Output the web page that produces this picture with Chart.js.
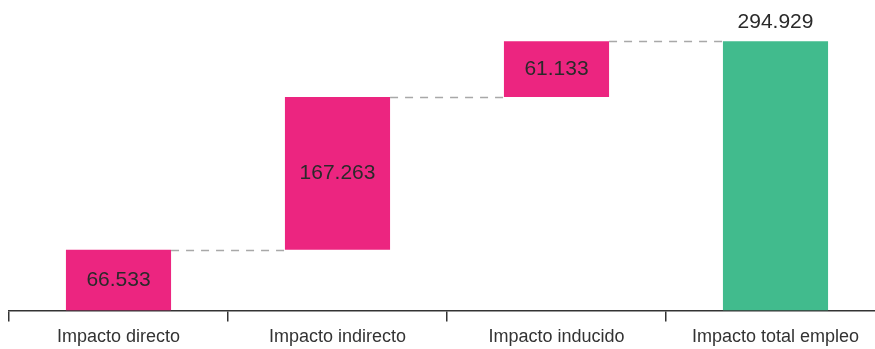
<!DOCTYPE html>
<html>
<head>
<meta charset="utf-8">
<script src="https://cdn.jsdelivr.net/npm/chart.js@4/dist/chart.umd.min.js"></script>
<style>
html,body{margin:0;padding:0;background:#fff;overflow:hidden;width:875px;height:349px;}
#wrap{position:absolute;left:0;top:0;width:890px;height:353px;}
</style>
</head>
<body>
<div id="wrap"><canvas id="c" width="890" height="353"></canvas></div>
<script>
// Data
const categories = ["Impacto directo", "Impacto indirecto", "Impacto inducido", "Impacto total empleo"];
const steps = [66533, 167263, 61133];
const total = 294929;
const yMax = 340000;

const stepColor = "#EC2580";
const totalColor = "#41BB8D";

// floating bar ranges built from the step values
const ranges = [];
let run = 0;
for (const v of steps) { ranges.push([run, run + v]); run += v; }
ranges.push([0, total]);
const labelValues = steps.concat([total]);
const colors = steps.map(() => stepColor).concat([totalColor]);

function fmt(n){ return String(n).replace(/\B(?=(\d{3})+(?!\d))/g, "."); }

const FONT = "'Liberation Sans', Arial, Helvetica, sans-serif";

const overlay = {
  id: "overlay",
  afterDatasetsDraw(chart) {
    const ctx = chart.ctx;
    const meta = chart.getDatasetMeta(0);
    const bars = meta.data;
    const y = chart.scales.y;
    // connectors
    ctx.save();
    ctx.strokeStyle = "#A8A8A8";
    ctx.lineWidth = 1.6;
    ctx.setLineDash([8, 7]);
    for (let i = 0; i < bars.length - 1; i++) {
      const b = bars[i], n = bars[i + 1];
      const yy = Math.round(y.getPixelForValue(ranges[i][1])) + 0.5;
      ctx.beginPath();
      ctx.moveTo(b.x + b.width / 2, yy);
      ctx.lineTo(n.x - n.width / 2, yy);
      ctx.stroke();
    }
    ctx.restore();
    // value labels
    ctx.save();
    ctx.font = "21px " + FONT;
    ctx.fillStyle = "#2A2A2A";
    ctx.textAlign = "center";
    ctx.textBaseline = "middle";
    bars.forEach((b, i) => {
      const top = y.getPixelForValue(ranges[i][1]);
      const bot = y.getPixelForValue(ranges[i][0]);
      const txt = fmt(labelValues[i]);
      if (i === bars.length - 1) {
        ctx.fillText(txt, b.x, top - 19);
      } else {
        ctx.fillText(txt, b.x, (top + bot) / 2);
      }
    });
    ctx.restore();
  }
};

new Chart(document.getElementById("c"), {
  type: "bar",
  data: {
    labels: categories,
    datasets: [{
      data: ranges,
      backgroundColor: colors,
      borderWidth: 0,
      barPercentage: 0.48,
      categoryPercentage: 1
    }]
  },
  options: {
    responsive: false,
    animation: false,
    devicePixelRatio: 1,
    layout: { padding: { left: 9, right: 5, top: 0, bottom: 0 } },
    plugins: { legend: { display: false }, tooltip: { enabled: false } },
    scales: {
      x: {
        offset: true,
        grid: { display: true, drawOnChartArea: false, drawTicks: true, tickLength: 11, color: "#333", lineWidth: 1.5, offset: true },
        border: { display: true, color: "#333", width: 1.5 },
        ticks: { color: "#333", font: { family: FONT, size: 18 }, padding: 5, maxRotation: 0 }
      },
      y: {
        display: false,
        min: 0,
        max: yMax
      }
    }
  },
  plugins: [overlay]
});
</script>
</body>
</html>
